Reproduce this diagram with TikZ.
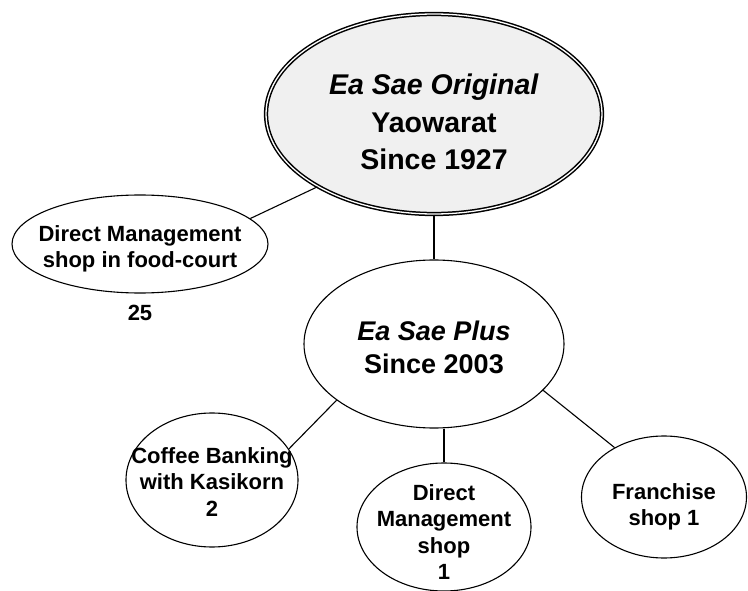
\documentclass[tikz,border=0pt]{standalone}
\usepackage{fontspec}
\setmainfont{Liberation Sans}
\usetikzlibrary{positioning,shapes.geometric}

\begin{document}
\begin{tikzpicture}[
  x=1pt, y=-1pt,
  bubble/.style={draw, ellipse, line width=1.1pt, inner sep=0pt},
  origin/.style={draw, ellipse, double, double distance=1.3pt,
                 line width=1.5pt, fill=black!6, inner sep=0pt},
  bigtxt/.style={align=center, font=\fontsize{28.5}{37.5}\selectfont\bfseries},
  midtxt/.style={align=center, font=\fontsize{27}{33}\selectfont\bfseries},
  txt/.style={align=center, font=\fontsize{22}{26.5}\selectfont\bfseries},
  link/.style={line width=1.1pt},
]
  \useasboundingbox (0,0) rectangle (748,591);

  %% Top: the original shop
  \node[origin, minimum width=336pt, minimum height=200pt] (orig) at (434,114) {};
  \node[bigtxt] (origtxt) at ([yshift=-8pt]orig.center)
    {\textit{Ea Sae Original}\\Yaowarat\\Since 1927};

  %% Left: food-court shops
  \node[bubble, minimum width=256pt, minimum height=98pt] (court) at (140,244) {};
  \node[txt] (courttxt) at ([yshift=-5pt]court.center)
    {Direct Management\\shop in food-court};
  \node[txt, below=8pt of court] (courtnum) {25};

  %% Middle: Ea Sae Plus
  \node[bubble, minimum width=260pt, minimum height=168pt] (plus) at (434,344) {};
  \node[midtxt] (plustxt) at ([yshift=-3pt]plus.center)
    {\textit{Ea Sae Plus}\\Since 2003};

  %% Bottom row
  \node[bubble, minimum width=172pt, minimum height=134pt] (coffee) at (212,480) {};
  \node[txt] (coffeetxt) at ([yshift=-2pt]coffee.center)
    {Coffee Banking\\with Kasikorn\\2};

  \node[bubble, minimum width=174pt, minimum height=128pt] (direct) at (444,527) {};
  \node[txt] (directtxt) at ([yshift=-5pt]direct.center)
    {Direct\\Management\\shop\\1};

  \node[bubble, minimum width=165pt, minimum height=122pt] (franch) at (664,497) {};
  \node[txt] (franchtxt) at ([yshift=-10pt]franch.center)
    {Franchise\\shop 1};

  %% Connectors
  \draw[link] (court.13) -- (orig.212);
  \draw[link] (orig.south) -- (plus.north);
  \draw[link] (plus.210) -- (coffee.22);
  \draw[link] (direct.north) -- (direct.north |- plus.south);
  \draw[link] (plus.337) -- (franch.135);
\end{tikzpicture}
\end{document}
